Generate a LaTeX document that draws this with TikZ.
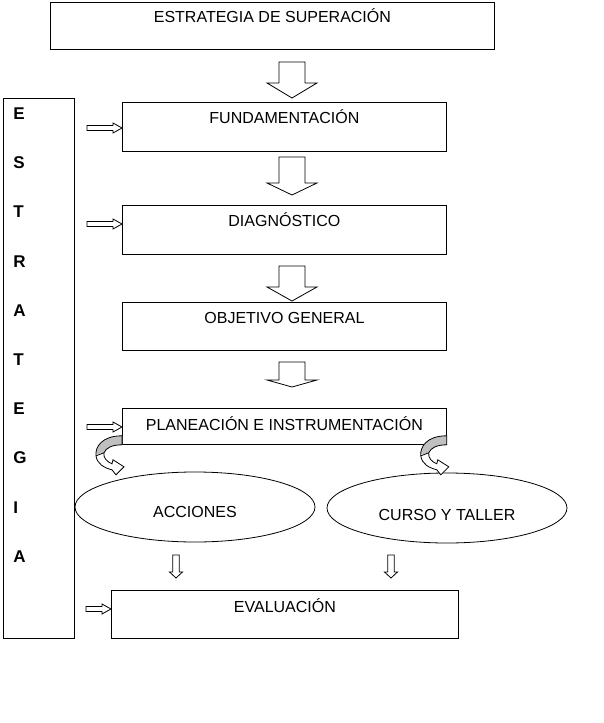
\documentclass[tikz,border=0pt]{standalone}
\usepackage{fontspec}
\setmainfont{Liberation Sans}
\usepackage{xcolor}
\usepackage{tikz}
\usetikzlibrary{shapes.geometric}
\definecolor{sombra}{HTML}{C0C0C0}

% Flecha grande hueca hacia abajo: x, arriba, base de la punta, punta
\newcommand\flechagrande[4]{%
  \draw (#1-13,#2) -- (#1+13,#2) -- (#1+13,#3) -- (#1+25,#3) -- (#1,#4)
    -- (#1-25,#3) -- (#1-13,#3) -- cycle;}

\tikzset{
  % Flecha pequena hacia la derecha, punta en el origen
  pics/entrada/.style={code={
    \draw (0,0) -- (-9,-5) -- (-9,-2.5) -- (-#1,-2.5) -- (-#1,2.5)
      -- (-9,2.5) -- (-9,5) -- cycle;
  }},
  % Flecha pequena hacia abajo, punta en el origen
  bajada/.pic={
    \draw (0,0) -- (-6.5,-6) -- (-3.3,-6) -- (-3.3,-23) -- (3.3,-23)
      -- (3.3,-6) -- (6.5,-6) -- cycle;
  },
  % Flecha curva con banda gris
  giro/.pic={
    \path[save path=\girocamino] (0,-9) .. controls (-20,-9) and (-27,2) .. (-26,11)
      .. controls (-25,19) and (-18,23) .. (-10,25)
      -- (-6,30) -- (2,22) -- (-9,15) -- (-10,19)
      .. controls (-15,17) and (-19,13) .. (-18,8)
      .. controls (-16,3) and (-10,0) .. (0,0) -- cycle;
    \fill[white, use path=\girocamino];
    \begin{scope}
      \clip (5,-12) -- (-35,-12) -- (-35,11) -- (-17,8) -- (5,8) -- cycle;
      \fill[sombra, use path=\girocamino];
    \end{scope}
    \draw[use path=\girocamino];
    \draw (-26,11) -- (-18,8);
  },
}

\begin{document}
\begin{tikzpicture}[x=1pt, y=-1pt, line width=0.8pt,
    caja/.style={draw, inner sep=0pt, anchor=north west, font=\fontsize{16}{19}\selectfont},
    ovalo/.style={draw, ellipse, inner sep=0pt, minimum width=240, minimum height=70,
      text height=22pt, text depth=0.5pt, font=\fontsize{16}{19}\selectfont},
    letra/.style={anchor=west, inner sep=0pt, font=\fontsize{17}{20}\selectfont\bfseries}]
  \useasboundingbox (0,0) rectangle (603,723);

  % Cajas principales
  \node[caja, minimum width=444, text height=20pt, text depth=27pt] (sup) at (50,2)
    {ESTRATEGIA DE SUPERACIÓN};
  \node[caja, minimum width=324, text height=21pt, text depth=28pt] (fund) at (122,102)
    {FUNDAMENTACIÓN};
  \node[caja, minimum width=324, text height=21pt, text depth=28pt] (diag) at (122,205)
    {DIAGNÓSTICO};
  \node[caja, minimum width=324, text height=21pt, text depth=27pt] (obj) at (122,302)
    {OBJETIVO GENERAL};
  \node[caja, minimum width=324, text height=22pt, text depth=14pt] (plan) at (122,408)
    {PLANEACIÓN E INSTRUMENTACIÓN};
  \node[caja, minimum width=347, text height=22pt, text depth=26pt] (eval) at (111,590)
    {EVALUACIÓN};

  % Columna lateral
  \node[draw, inner sep=0pt, anchor=north west, minimum width=71, minimum height=540] (col) at (3,98) {};
  \foreach \l/\y in {E/114, S/163, T/212, R/262, A/311, T/360, E/409, G/458, I/508, A/557}
    \node[letra] (l\y) at (13,\y) {\l};

  % Ovalos
  \node[ovalo] (acc) at (195,507) {ACCIONES};
  \node[ovalo, text height=26pt] (cur) at (447,508) {CURSO Y TALLER};

  % Flechas grandes
  \flechagrande{292}{62}{83}{98}
  \flechagrande{292}{157}{183}{195}
  \flechagrande{292}{266}{287}{301}
  \flechagrande{292}{362}{380}{387}

  % Flechas de entrada desde la columna
  \pic at (fund.west |- 0,128) {entrada=35};
  \pic at (diag.west |- 0,224) {entrada=35};
  \pic at (plan.west |- 0,427) {entrada=35};
  \pic at (eval.west |- 0,609) {entrada=25};

  % Flechas curvas hacia los ovalos
  \pic at (plan.south west) {giro};
  \begin{scope}[shift={(plan.south east)}, xscale=-1, yscale=0.85]
    \pic {giro};
  \end{scope}

  % Flechas hacia la evaluacion
  \pic at (176,578) {bajada};
  \pic at (391,578) {bajada};
\end{tikzpicture}
\end{document}
